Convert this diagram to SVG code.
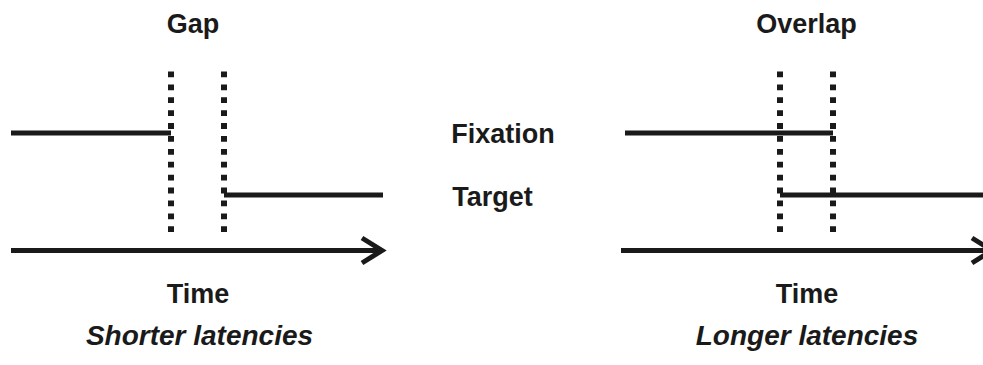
<svg xmlns="http://www.w3.org/2000/svg" width="983" height="365" viewBox="0 0 983 365">
<style>
.t{font-family:"Liberation Sans",Arial,sans-serif;font-weight:bold;font-size:27px;fill:#1a1a1a;text-anchor:middle}
.i{font-style:italic;font-size:28px}
.s{stroke:#1a1a1a;stroke-width:5;fill:none}
.d{stroke:#1a1a1a;stroke-width:6;stroke-dasharray:5.8 7.1;fill:none}
.a{stroke:#1a1a1a;stroke-width:5;fill:none;stroke-linejoin:miter}
</style>
<rect width="983" height="365" fill="#fff"/>
<g id="gap-panel">
<text class="t" x="193" y="33">Gap</text>
<line class="s" x1="11" y1="133" x2="171" y2="133"/>
<line class="s" x1="224" y1="195" x2="383" y2="195"/>
<line class="d" x1="171" y1="71.5" x2="171" y2="233"/>
<line class="d" x1="224" y1="71.5" x2="224" y2="233"/>
<line class="s" x1="11" y1="250.5" x2="381" y2="250.5"/>
<polyline class="a" points="362,238 382,250.5 362,263"/>
<text class="t" x="198" y="303">Time</text>
<text class="t i" x="199.5" y="345">Shorter latencies</text>
</g>
<g id="labels">
<text class="t" x="503" y="143">Fixation</text>
<text class="t" x="492.5" y="206">Target</text>
</g>
<g id="overlap-panel">
<text class="t" x="806.5" y="33">Overlap</text>
<line class="s" x1="625" y1="133" x2="833" y2="133"/>
<line class="s" x1="780" y1="195" x2="983" y2="195"/>
<line class="d" x1="780" y1="71.5" x2="780" y2="233"/>
<line class="d" x1="833" y1="71.5" x2="833" y2="233"/>
<line class="s" x1="621" y1="250.5" x2="991" y2="250.5"/>
<polyline class="a" points="972,238 992,250.5 972,263"/>
<text class="t" x="807" y="303">Time</text>
<text class="t i" x="807" y="345">Longer latencies</text>
</g>
</svg>
